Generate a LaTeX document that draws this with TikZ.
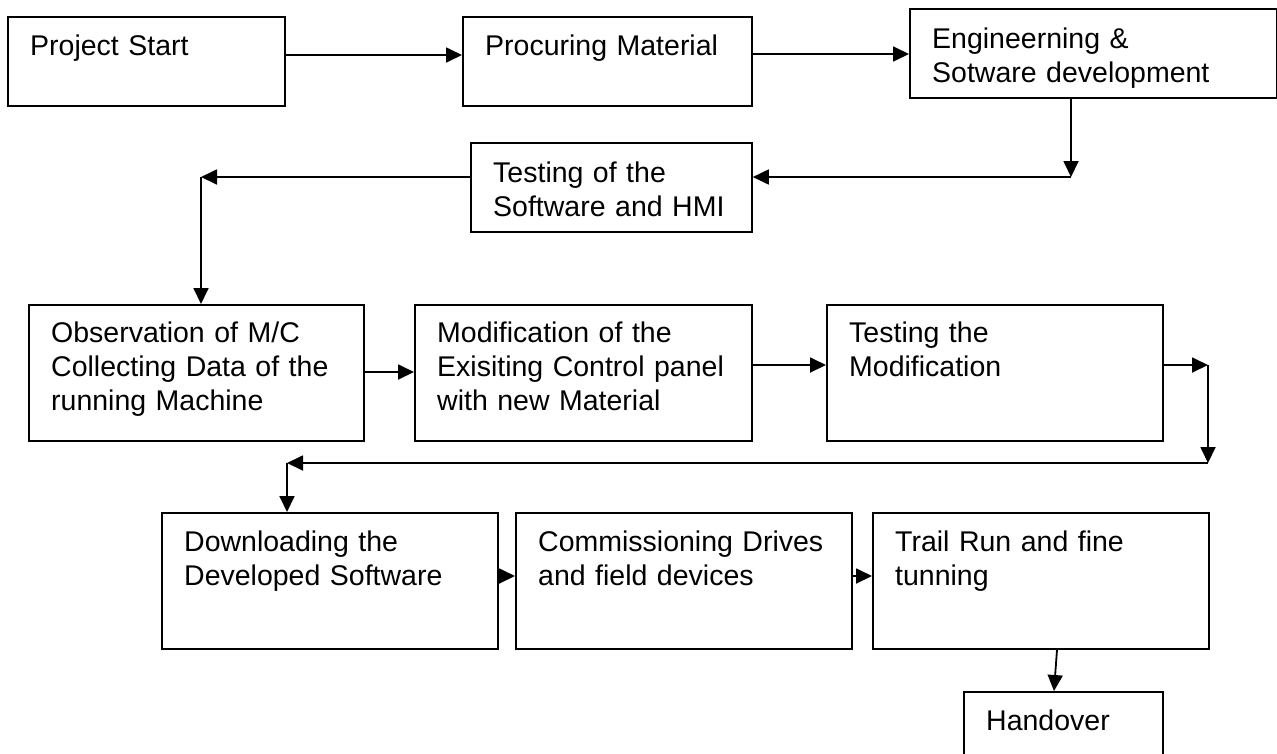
\documentclass[tikz,border=0pt]{standalone}
\usepackage{fontspec}
\setmainfont{Liberation Sans}
\usetikzlibrary{arrows.meta,calc}
\tikzset{
  box/.style={draw=black, line width=1.8pt, rectangle, inner sep=0pt, anchor=north west, fill=white},
  txt/.style={anchor=base west, inner sep=0pt, text width=360pt, align=left, font=\fontsize{28.5}{34}\selectfont},
  arr/.style={line width=1.8pt, -{Triangle[length=16pt,width=15pt]}},
  ln/.style={line width=1.8pt}
}
\begin{document}
\begin{tikzpicture}[x=1pt,y=-1pt]
\useasboundingbox (0,0) rectangle (1277,753);
\fill[white] (0,0) rectangle (1277,753);
% boxes
\node[box, minimum width=277pt, minimum height=89pt] (ps) at (7,16) {};
\node[box, minimum width=289pt, minimum height=89pt] (pm) at (462,16) {};
\node[box, minimum width=367pt, minimum height=89pt] (es) at (909,8) {};
\node[box, minimum width=281pt, minimum height=89pt] (ts) at (470,142) {};
\node[box, minimum width=335pt, minimum height=136pt] (ob) at (28,304) {};
\node[box, minimum width=337pt, minimum height=136pt] (mo) at (414,304) {};
\node[box, minimum width=336pt, minimum height=136pt] (tm) at (826,304) {};
\node[box, minimum width=336pt, minimum height=136pt] (dl) at (161,512) {};
\node[box, minimum width=336pt, minimum height=136pt] (cd) at (515,512) {};
\node[box, minimum width=336pt, minimum height=136pt] (tr) at (872,512) {};
\node[box, minimum width=199pt, minimum height=90pt] (ho) at (963,691) {};
% texts
\node[txt] (tps) at ($(ps.north west)+(23,39)$) {Project Start};
\node[txt] (tpm) at ($(pm.north west)+(23,39)$) {Procuring Material};
\node[txt] (tes) at ($(es.north west)+(23,40)$) {Engineerning \&\\Sotware development};
\node[txt] (tts) at ($(ts.north west)+(23,40)$) {Testing of the\\Software and HMI};
\node[txt] (tob) at ($(ob.north west)+(23,38)$) {Observation of M/C\\Collecting Data of the\\running Machine};
\node[txt] (tmo) at ($(mo.north west)+(23,38)$) {Modification of the\\Exisiting Control panel\\with new Material};
\node[txt] (ttm) at ($(tm.north west)+(23,38)$) {Testing the\\Modification};
\node[txt] (tdl) at ($(dl.north west)+(23,39)$) {Downloading the\\Developed Software};
\node[txt] (tcd) at ($(cd.north west)+(23,39)$) {Commissioning Drives\\and field devices};
\node[txt] (ttr) at ($(tr.north west)+(23,39)$) {Trail Run and fine\\tunning};
\node[txt] (tho) at ($(ho.north west)+(23,39)$) {Handover};
% helper coordinates
\coordinate (c1) at (1071,177);
\coordinate (c2) at (201,177);
\coordinate (c3) at (1208,365);
\coordinate (c4) at (1208,463);
\coordinate (c5) at (287,463);
% connectors
\draw[arr] ($(ps.north east)+(0,39)$) -- ($(pm.north west)+(0,39)$);
\draw[arr] ($(pm.north east)+(0,38)$) -- ($(es.north west)+(0,46)$);
\draw[arr] (es.south -| c1) -- (c1);
\draw[arr] (c1) -- (ts.east |- c1);
\draw[arr] (ts.west |- c2) -- (c2);
\draw[arr] (c2) -- (ob.north -| c2);
\draw[arr] ($(ob.north east)+(0,68)$) -- ($(mo.north west)+(0,68)$);
\draw[arr] ($(mo.north east)+(0,61)$) -- ($(tm.north west)+(0,61)$);
\draw[arr] (tm.east |- c3) -- (c3);
\draw[arr] (c3) -- (c4);
\draw[arr] (c4) -- (c5);
\draw[arr] (c5) -- (dl.north -| c5);
\draw[arr] ($(dl.north east)+(0,64)$) -- ($(cd.north west)+(0,64)$);
\draw[arr] ($(cd.north east)+(0,64)$) -- ($(tr.north west)+(0,64)$);
\draw[arr] ($(tr.south west)+(185,0)$) -- ($(ho.north west)+(91,0)$);
\end{tikzpicture}
\end{document}
